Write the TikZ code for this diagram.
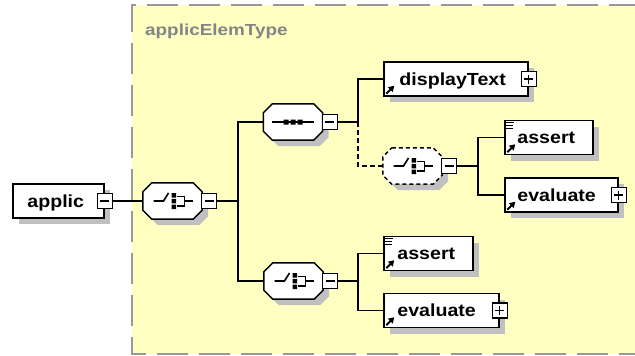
\documentclass[tikz,border=0pt]{standalone}
\usepackage{fontspec}
\newfontfamily\lblfont[FakeStretch=1.12]{Liberation Sans}
\newfontfamily\ttlfont[FakeStretch=1.18]{Liberation Sans}
\usetikzlibrary{shadows,arrows.meta}
\definecolor{bgyel}{HTML}{FFFFC2}
\definecolor{shadowc}{HTML}{C0C0C0}
\definecolor{framec}{HTML}{999999}
\definecolor{titlec}{HTML}{848484}
% octagon drawn over the bounding rectangle of a named node
\newcommand\octo[4]{%
  \path[#4] ([xshift=9pt+#2,yshift=#3]#1.north west) -- ([xshift=-9pt+#2,yshift=#3]#1.north east)
    -- ([xshift=#2,yshift=-9pt+#3]#1.north east) -- ([xshift=#2,yshift=9pt+#3]#1.south east)
    -- ([xshift=-9pt+#2,yshift=#3]#1.south east) -- ([xshift=9pt+#2,yshift=#3]#1.south west)
    -- ([xshift=#2,yshift=9pt+#3]#1.south west) -- ([xshift=#2,yshift=-9pt+#3]#1.north west) -- cycle;}
\newcommand\choiceicon[1]{%
  \begin{scope}[shift={(#1.center)}]
    \draw[line width=1.6pt] (-19,0) -- (-9,0) -- (-4,-8);
    \fill (-1,-8) rectangle (3.5,-3.5) (-1,-2.25) rectangle (3.5,2.25) (-1,3.5) rectangle (3.5,8);
    \draw[line width=1.5pt] (4,-4.5) -- (12,-4.5) -- (12,5) -- (4,5) (12,0) -- (20,0);
  \end{scope}}
\newcommand\seqicon[1]{%
  \begin{scope}[shift={(#1.center)}]
    \draw[line width=1.6pt] (-21,0) -- (21,0);
    \fill (-9.5,-2.5) rectangle (-4.5,2.5) (-2.5,-2.5) rectangle (2.5,2.5) (4.5,-2.5) rectangle (9.5,2.5);
  \end{scope}}
\newcommand\refarrow[1]{%
  \draw[line width=1.8pt,-{Triangle[length=5.5pt,width=6.5pt]}] ([xshift=3pt,yshift=3pt]#1.south west) -- ([xshift=11pt,yshift=11pt]#1.south west);}
\newcommand\linesicon[1]{%
  \draw[line width=1pt] ([xshift=2pt,yshift=-3pt]#1.north west) -- ([xshift=10pt,yshift=-3pt]#1.north west)
    ([xshift=2pt,yshift=-6pt]#1.north west) -- ([xshift=9pt,yshift=-6pt]#1.north west)
    ([xshift=2pt,yshift=-9pt]#1.north west) -- ([xshift=9pt,yshift=-9pt]#1.north west);}
\begin{document}
\begin{tikzpicture}[x=1pt,y=-1pt,
  elem/.style={draw, fill=white, line width=1.5pt, inner sep=0pt, minimum height=34pt,
    drop shadow={shadow xshift=6pt,shadow yshift=-6pt,fill=shadowc,opacity=1}},
  comp/.style={inner sep=0pt, minimum width=59pt, minimum height=36pt},
  pm/.style={draw, fill=white, line width=1.2pt, inner sep=0pt, minimum size=15pt},
  minus/.style={pm, path picture={\draw[line width=1.2pt] ([xshift=3pt]path picture bounding box.west) -- ([xshift=-3pt]path picture bounding box.east);}},
  plus/.style={pm, path picture={\draw[line width=1.2pt] ([xshift=3pt]path picture bounding box.west) -- ([xshift=-3pt]path picture bounding box.east)
      ([yshift=3pt]path picture bounding box.south) -- ([yshift=-3pt]path picture bounding box.north);}},
  lbl/.style={font=\lblfont\bfseries\fontsize{17.5}{19}\selectfont, inner sep=0pt, anchor=base west},
  conn/.style={line width=1.5pt},
  dconn/.style={line width=1.5pt, dash pattern=on 5pt off 3pt},
]
\useasboundingbox (0,0) rectangle (635,356);
% background group
\fill[bgyel] (132,5) rectangle (640,354);
\draw[framec, line width=1.8pt, dash pattern=on 31pt off 11pt] (640,5) -- (132,5) -- (132,354) -- (640,354);
\node[font=\ttlfont\bfseries\fontsize{16}{18}\selectfont, text=titlec, anchor=base west, inner sep=0pt] (title) at (145,35) {applicElemType};

% root element
\node[elem, minimum width=91pt] (applic) at (58.5,201) {};
\node[lbl] (applicT) at ([xshift=15pt,yshift=-6pt]applic.west) {applic};
\node[minus] (applicM) at (applic.east) {};

% top choice
\node[comp] (ch1) at (172.5,201) {};
\octo{ch1}{6pt}{-6pt}{fill=shadowc}
\octo{ch1}{0pt}{0pt}{draw,fill=white,line width=1.5pt}
\choiceicon{ch1}
\node[minus, anchor=west] (ch1M) at ([xshift=-1pt]ch1.east) {};

% sequence
\node[comp] (seq) at (293,122) {};
\octo{seq}{6pt}{-6pt}{fill=shadowc}
\octo{seq}{0pt}{0pt}{draw,fill=white,line width=1.5pt}
\seqicon{seq}
\node[minus, anchor=west] (seqM) at ([xshift=-1pt]seq.east) {};

% displayText
\node[elem, minimum width=144pt] (dt) at (456,79) {};
\node[lbl] (dtT) at ([xshift=16pt,yshift=-6pt]dt.west) {displayText};
\node[plus] (dtP) at (dt.east) {};
\refarrow{dt}

% optional choice (dashed)
\node[comp] (ch2) at (412.5,166) {};
\octo{ch2}{6pt}{-6pt}{fill=shadowc}
\octo{ch2}{0pt}{0pt}{draw,fill=white,line width=1.5pt,dash pattern=on 4pt off 3pt}
\choiceicon{ch2}
\node[minus, anchor=west] (ch2M) at ([xshift=-1pt]ch2.east) {};

% assert / evaluate (upper)
\node[elem, minimum width=88pt] (as1) at (549,137.5) {};
\node[lbl] (as1T) at ([xshift=13pt,yshift=-6pt]as1.west) {assert};
\refarrow{as1}
\linesicon{as1}
\node[elem, minimum width=113pt] (ev1) at (561.5,195) {};
\node[lbl] (ev1T) at ([xshift=13pt,yshift=-6pt]ev1.west) {evaluate};
\node[plus] (ev1P) at (ev1.east) {};
\refarrow{ev1}

% bottom choice
\node[comp] (ch3) at (293.5,281) {};
\octo{ch3}{6pt}{-6pt}{fill=shadowc}
\octo{ch3}{0pt}{0pt}{draw,fill=white,line width=1.5pt}
\choiceicon{ch3}
\node[minus, anchor=west] (ch3M) at ([xshift=-1pt]ch3.east) {};

% assert / evaluate (lower)
\node[elem, minimum width=89pt] (as2) at (428.5,253.5) {};
\node[lbl] (as2T) at ([xshift=14pt,yshift=-6pt]as2.west) {assert};
\refarrow{as2}
\linesicon{as2}
\node[elem, minimum width=115pt] (ev2) at (441.5,310.5) {};
\node[lbl] (ev2T) at ([xshift=14pt,yshift=-6pt]ev2.west) {evaluate};
\node[plus] (ev2P) at (ev2.east) {};
\refarrow{ev2}

% junctions
\coordinate (j1) at (238,201);
\coordinate (j2) at (358,122);
\coordinate (j3) at (478,166);
\coordinate (j4) at (358,281);

% connectors
\draw[conn] (applicM.east) -- (ch1.west);
\draw[conn] (ch1M.east) -- (j1) |- (seq.west);
\draw[conn] (j1) |- (ch3.west);
\draw[conn] (seqM.east) -- (j2) |- (dt.west);
\draw[dconn] (j2) |- (ch2.west);
\draw[conn] (ch2M.east) -- (j3) |- (as1.west);
\draw[conn] (j3) |- (ev1.west);
\draw[conn] (ch3M.east) -- (j4) |- (as2.west);
\draw[conn] (j4) |- (ev2.west);
\end{tikzpicture}
\end{document}
